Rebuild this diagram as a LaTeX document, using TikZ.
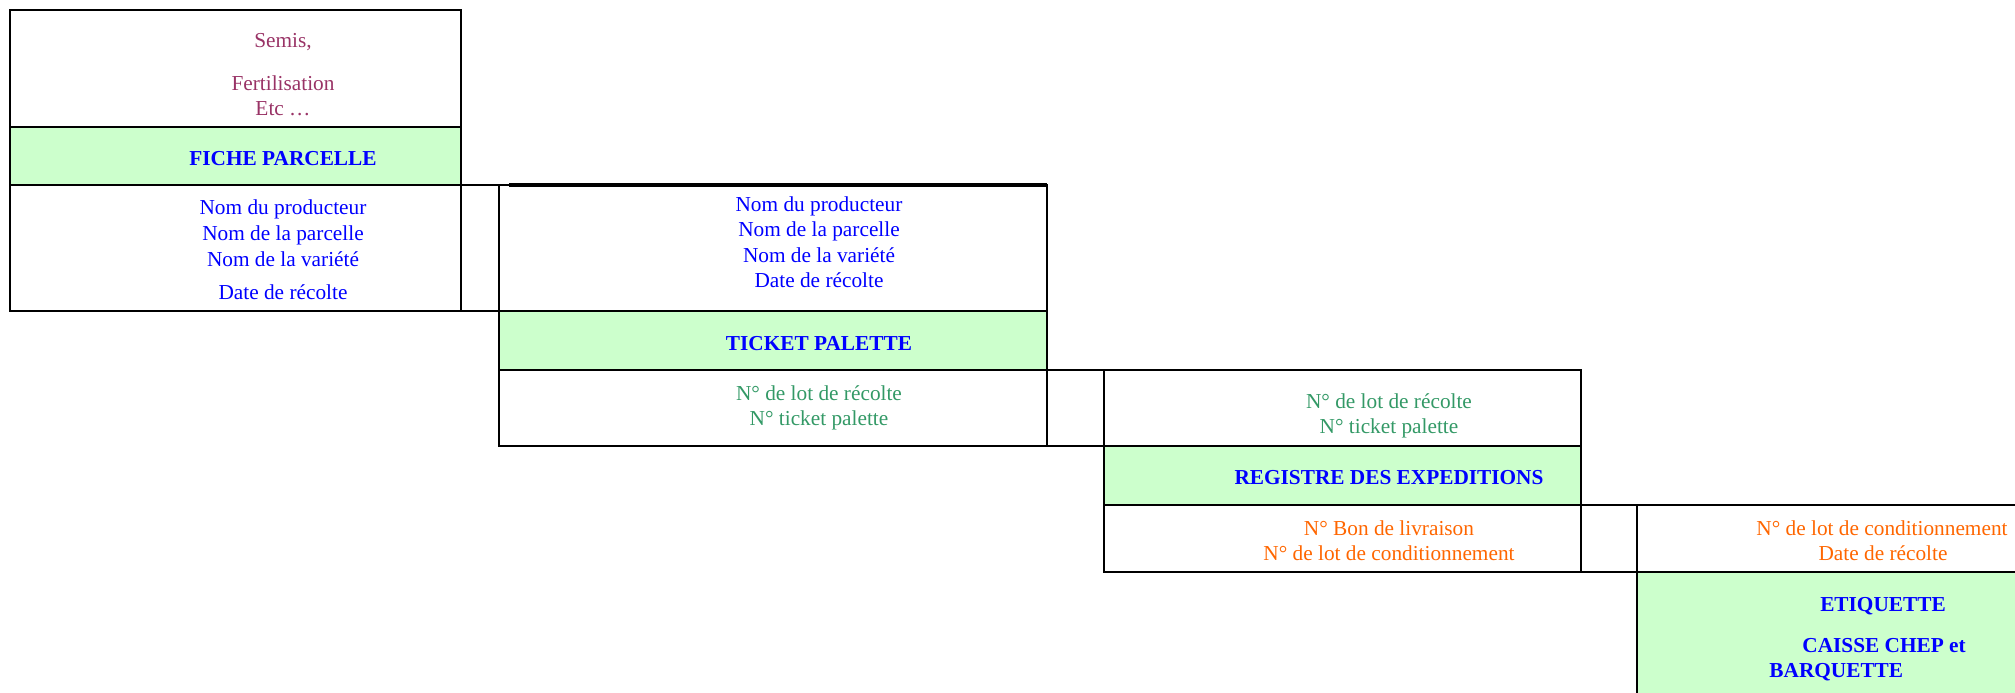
\documentclass[tikz,border=0pt]{standalone}
\usepackage{fontspec}
\setmainfont{Liberation Serif}
\usetikzlibrary{positioning}
\definecolor{travauxpurple}{HTML}{993366}
\definecolor{infoblue}{HTML}{0000FF}
\definecolor{lotgreen}{HTML}{339966}
\definecolor{condorange}{HTML}{FF6600}
\definecolor{bandgreen}{HTML}{CCFFCC}

\begin{document}
\begin{tikzpicture}[x=0.5pt,y=0.5pt]
		\tikzstyle{cell} = [draw,line width=0.9pt]
		\tikzstyle{band} = [cell,fill=bandgreen]
		\tikzstyle{txt} = [inner sep=0pt,yshift=-1.5pt,text height=7.4pt,text depth=2.2pt,font=\fontsize{10.65}{12.5}\selectfont]
		\tikzstyle{travaux} = [txt,text=travauxpurple]
		\tikzstyle{info} = [txt,text=infoblue]
		\tikzstyle{lot} = [txt,text=lotgreen]
		\tikzstyle{cond} = [txt,text=condorange]
		\tikzstyle{titre} = [txt,text=infoblue,font=\fontsize{10.65}{12.5}\selectfont\bfseries]
		\useasboundingbox (0,0) rectangle (2015,-692);
		\clip (0,0) rectangle (2015,-692);
		% Fiche parcelle
		\draw[cell] (10,-10) rectangle (461,-127);
		\draw[band] (10,-127) rectangle (461,-185);
		\draw[cell] (10,-185) rectangle (461,-311);
		\draw[cell] (461,-185) rectangle (499,-311);
		\node[travaux] at (283,-39)(fp_s) {Semis,};
		\node[travaux] at (283,-82)(fp_f) {Fertilisation};
		\node[travaux] at (283,-107)(fp_e) {Etc …};
		\node[titre] at (283,-157)(fp_t) {FICHE PARCELLE};
		\node[info] at (283,-206)(fp_1) {Nom du producteur};
		\node[info] at (283,-232)(fp_2) {Nom de la parcelle};
		\node[info] at (283,-258)(fp_3) {Nom de la variété};
		\node[info] at (283,-291)(fp_4) {Date de récolte};
		% Ticket palette
		\draw[cell] (499,-185) rectangle (1047,-311);
		\draw[line width=1.6pt] (509,-185) -- (1047,-185);
		\draw[band] (499,-311) rectangle (1047,-370);
		\draw[cell] (499,-370) rectangle (1047,-446);
		\draw[cell] (1047,-370) rectangle (1104,-446);
		\node[info] at (819,-203)(tp_1) {Nom du producteur};
		\node[info] at (819,-228)(tp_2) {Nom de la parcelle};
		\node[info] at (819,-254)(tp_3) {Nom de la variété};
		\node[info] at (819,-279)(tp_4) {Date de récolte};
		\node[titre] at (819,-342)(tp_t) {TICKET PALETTE};
		\node[lot] at (819,-392)(tp_5) {N° de lot de récolte};
		\node[lot] at (819,-417)(tp_6) {N° ticket palette};
		% Registre des expeditions
		\draw[cell] (1104,-370) rectangle (1581,-446);
		\draw[band] (1104,-446) rectangle (1581,-505);
		\draw[cell] (1104,-505) rectangle (1581,-572);
		\draw[cell] (1581,-505) rectangle (1637,-572);
		\node[lot] at (1389,-400)(re_1) {N° de lot de récolte};
		\node[lot] at (1389,-425)(re_2) {N° ticket palette};
		\node[titre] at (1389,-476)(re_t) {REGISTRE DES EXPEDITIONS};
		\node[cond] at (1389,-527)(re_3) {N° Bon de livraison};
		\node[cond] at (1389,-552)(re_4) {N° de lot de conditionnement};
		% Etiquette
		\draw[cell] (1637,-505) rectangle (2040,-572);
		\draw[band] (1637,-572) rectangle (2040,-720);
		\node[cond] at (1882,-527)(et_1) {N° de lot de conditionnement};
		\node[cond] at (1883,-552)(et_2) {Date de récolte};
		\node[titre] at (1883,-603)(et_t) {ETIQUETTE};
		\node[titre,anchor=west] at (1802,-644)(et_3) {CAISSE CHEP et};
		\node[titre,anchor=west] at (1769,-669)(et_4) {BARQUETTE};
		\end{tikzpicture}
\end{document}
